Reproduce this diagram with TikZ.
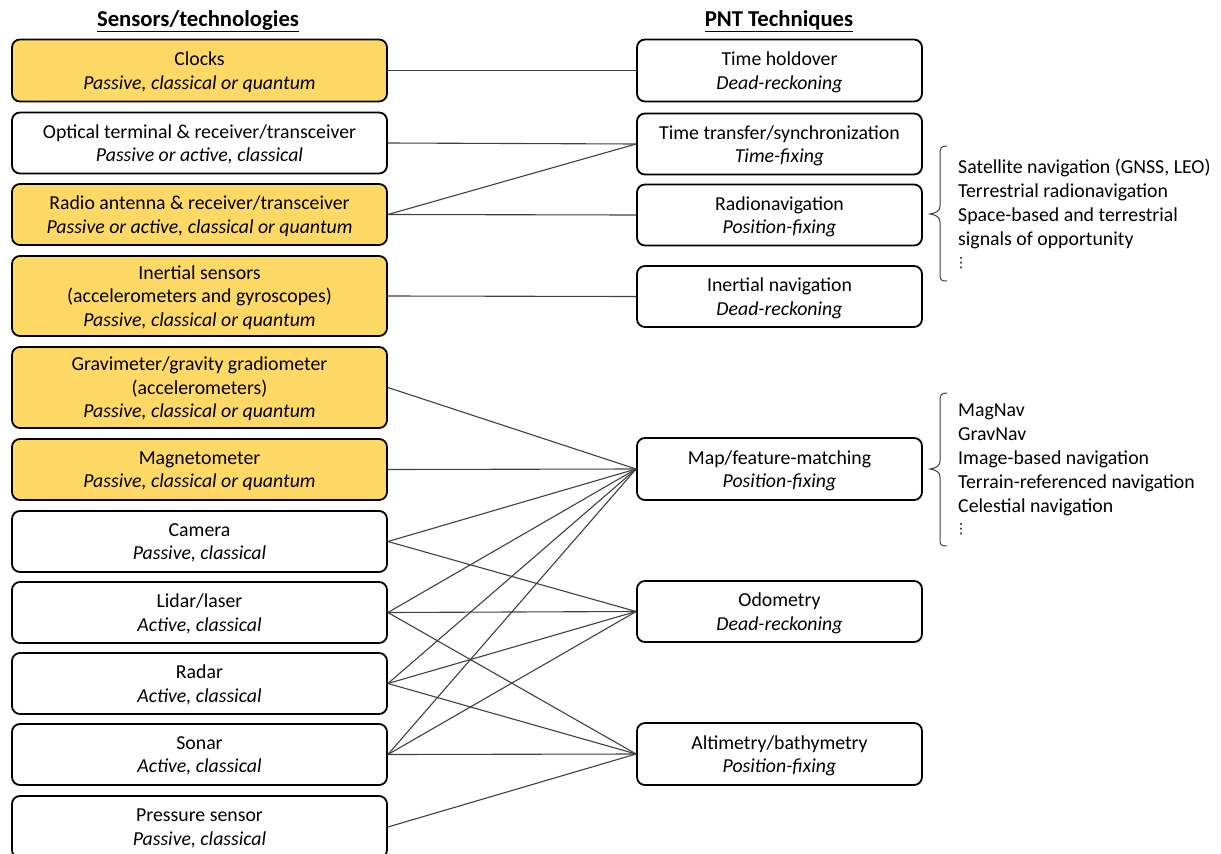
\documentclass[tikz,border=0pt]{standalone}
\usepackage{fontspec}
\setmainfont{Carlito}
\newfontfamily\dejavu{DejaVu Sans}
\definecolor{gold}{HTML}{FFD966}
\definecolor{linegray}{HTML}{404040}
\begin{document}
\begin{tikzpicture}[x=1pt,y=-1pt,
  box/.style={draw=black,line width=1.8pt,rounded corners=8pt,align=center,inner sep=0pt,
    text depth=0pt,font=\fontsize{19.8}{23.5}\selectfont},
  lbox/.style={box,minimum width=375pt},
  rbox/.style={box,minimum width=285pt},
  hi/.style={fill=gold},
  conn/.style={draw=linegray,line width=1.1pt},
  lst/.style={anchor=north west,align=left,inner sep=0pt,font=\fontsize{19.8}{24}\selectfont},
  dots/.style={inner sep=0pt,font=\dejavu\fontsize{14}{14}\selectfont},
  head/.style={font=\fontsize{22.7}{26}\selectfont\bfseries,inner sep=0pt},
  brace/.style={draw=linegray,line width=1pt}]
\useasboundingbox (0,0) rectangle (1221,854);
\begin{scope}
\clip (0,0) rectangle (1221,854);
\node[head] (h1) at (198,21) {\underline{Sensors/technologies}};
\node[head] (h2) at (779,21) {\underline{PNT Techniques}};
% left boxes
\node[lbox,hi,minimum height=62pt] (clk) at (199.5,70.5) {Clocks\\\textit{Passive, classical or quantum}};
\node[lbox,minimum height=61pt] (opt) at (199.5,143) {Optical terminal \& receiver/transceiver\\\textit{Passive or active, classical}};
\node[lbox,hi,minimum height=61pt] (rad) at (199.5,214.5) {Radio antenna \& receiver/transceiver\\\textit{Passive or active, classical or quantum}};
\node[lbox,hi,minimum height=80pt] (ins) at (199.5,296) {Inertial sensors\\(accelerometers and gyroscopes)\\\textit{Passive, classical or quantum}};
\node[lbox,hi,minimum height=81pt] (grv) at (199.5,387.5) {Gravimeter/gravity gradiometer\\(accelerometers)\\\textit{Passive, classical or quantum}};
\node[lbox,hi,minimum height=61pt] (mag) at (199.5,469.5) {Magnetometer\\\textit{Passive, classical or quantum}};
\node[lbox,minimum height=61pt] (cam) at (199.5,541.5) {Camera\\\textit{Passive, classical}};
\node[lbox,minimum height=61pt] (lid) at (199.5,612.5) {Lidar/laser\\\textit{Active, classical}};
\node[lbox,minimum height=61pt] (rdr) at (199.5,683.5) {Radar\\\textit{Active, classical}};
\node[lbox,minimum height=61pt] (son) at (199.5,754.5) {Sonar\\\textit{Active, classical}};
\node[lbox,minimum height=62pt] (prs) at (199.5,827) {Pressure sensor\\\textit{Passive, classical}};
% right boxes
\node[rbox,minimum height=62pt] (thold) at (779.5,70.5) {Time holdover\\\textit{Dead-reckoning}};
\node[rbox,minimum height=61pt] (ttr) at (779.5,144) {Time transfer/synchronization\\\textit{Time-fixing}};
\node[rbox,minimum height=61pt] (rnav) at (779.5,215) {Radionavigation\\\textit{Position-fixing}};
\node[rbox,minimum height=61pt] (inav) at (779.5,296.5) {Inertial navigation\\\textit{Dead-reckoning}};
\node[rbox,minimum height=62pt] (map) at (779.5,469) {Map/feature-matching\\\textit{Position-fixing}};
\node[rbox,minimum height=61pt] (odo) at (779.5,611.5) {Odometry\\\textit{Dead-reckoning}};
\node[rbox,minimum height=62pt] (alt) at (779.5,754) {Altimetry/bathymetry\\\textit{Position-fixing}};
% connectors
\draw[conn] (clk.east) -- (thold.west);
\draw[conn] (opt.east) -- (ttr.west);
\draw[conn] (rad.east) -- (ttr.west);
\draw[conn] (rad.east) -- (rnav.west);
\draw[conn] (ins.east) -- (inav.west);
\draw[conn] (grv.east) -- (map.west);
\draw[conn] (mag.east) -- (map.west);
\draw[conn] (cam.east) -- (map.west);
\draw[conn] (cam.east) -- (odo.west);
\draw[conn] (lid.east) -- (map.west);
\draw[conn] (lid.east) -- (odo.west);
\draw[conn] (lid.east) -- (alt.west);
\draw[conn] (rdr.east) -- (map.west);
\draw[conn] (rdr.east) -- (odo.west);
\draw[conn] (rdr.east) -- (alt.west);
\draw[conn] (son.east) -- (map.west);
\draw[conn] (son.east) -- (odo.west);
\draw[conn] (son.east) -- (alt.west);
\draw[conn] (prs.east) -- (alt.west);
% braces
\draw[brace] (947,146) .. controls (941,146) and (940,148) .. (940,154) -- (940,206)
  .. controls (940,211) and (936,213) .. (930,214)
  .. controls (936,215) and (940,217) .. (940,222) -- (940,274)
  .. controls (940,280) and (941,281) .. (947,281);
\node[lst] (l1) at (958,159) {Satellite navigation (GNSS, LEO)\\Terrestrial radionavigation\\Space-based and terrestrial\\signals of opportunity};
\node[dots] (d1) at (961,263) {⋮};
\draw[brace] (947,393) .. controls (941,393) and (940,395) .. (940,401) -- (940,461)
  .. controls (940,466) and (936,468) .. (930,469)
  .. controls (936,470) and (940,472) .. (940,477) -- (940,539)
  .. controls (940,545) and (941,546) .. (947,546);
\node[lst] (l2) at (958,404) {MagNav\\GravNav\\Image-based navigation\\Terrain-referenced navigation\\Celestial navigation};
\node[dots] (d2) at (961,529) {⋮};
\end{scope}
\end{tikzpicture}
\end{document}
